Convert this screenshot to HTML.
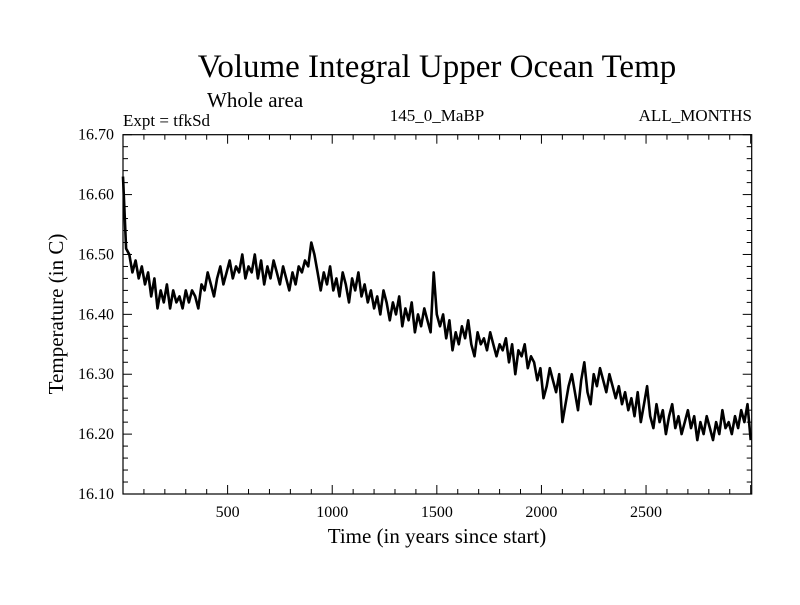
<!DOCTYPE html>
<html><head><meta charset="utf-8"><style>
body{margin:0;background:#fff;}
svg text{font-family:"Liberation Serif",serif;fill:#000;}
</style></head><body>
<svg width="800" height="600" viewBox="0 0 800 600">
<text x="437" y="77" font-size="33" text-anchor="middle">Volume Integral Upper Ocean Temp</text>
<text x="207" y="107" font-size="21">Whole area</text>
<text x="123" y="126" font-size="17">Expt = tfkSd</text>
<text x="437" y="121" font-size="17" text-anchor="middle">145_0_MaBP</text>
<text x="752" y="121" font-size="17" text-anchor="end">ALL_MONTHS</text>
<text x="437" y="543" font-size="21" text-anchor="middle">Time (in years since start)</text>
<text transform="translate(63,314) rotate(-90)" font-size="21" text-anchor="middle">Temperature (in C)</text>
<g id="axes"></g>
<path id="line" fill="none" stroke="#000" stroke-width="2.6" stroke-linejoin="round"></path>
<rect x="123" y="134.7" width="628.7" height="359.3" fill="none" stroke="#000" stroke-width="1.2"></rect>
</svg>
<script>
const startYear = 0;
const stepYears = 15;
const temps = [16.63,16.51,16.50,16.47,16.49,16.46,16.48,16.45,16.47,16.43,16.46,16.41,16.44,16.42,16.45,16.41,16.44,16.42,16.43,16.41,16.44,
16.42,16.44,16.43,16.41,16.45,16.44,16.47,16.45,16.43,16.46,16.48,16.45,16.47,16.49,16.46,16.48,16.47,16.50,16.46,16.48,
16.47,16.50,16.46,16.49,16.45,16.48,16.46,16.49,16.47,16.45,16.48,16.46,16.44,16.47,16.45,16.48,16.47,16.49,16.48,16.52,
16.50,16.47,16.44,16.47,16.45,16.48,16.44,16.46,16.43,16.47,16.45,16.42,16.46,16.44,16.47,16.43,16.45,16.42,16.44,16.41,
16.43,16.40,16.44,16.42,16.39,16.42,16.40,16.43,16.38,16.41,16.39,16.42,16.37,16.40,16.38,16.41,16.39,16.37,16.47,16.40,
16.38,16.40,16.36,16.39,16.34,16.37,16.35,16.38,16.36,16.39,16.35,16.33,16.37,16.35,16.36,16.34,16.37,16.35,16.33,16.35,
16.34,16.36,16.32,16.35,16.30,16.34,16.33,16.35,16.31,16.33,16.32,16.29,16.31,16.26,16.28,16.31,16.29,16.27,16.30,16.22,
16.25,16.28,16.30,16.27,16.24,16.29,16.32,16.27,16.25,16.30,16.28,16.31,16.29,16.27,16.30,16.28,16.26,16.28,16.25,16.27,
16.24,16.26,16.23,16.27,16.22,16.25,16.28,16.23,16.21,16.25,16.22,16.24,16.20,16.23,16.25,16.21,16.23,16.20,16.22,16.24,
16.21,16.23,16.19,16.22,16.20,16.23,16.21,16.19,16.22,16.20,16.24,16.21,16.22,16.20,16.23,16.21,16.24,16.22,16.25,16.19];
const xTickLabels = [500,1000,1500,2000,2500];
const yTickLabels = ["16.10","16.20","16.30","16.40","16.50","16.60","16.70"];

const X0=123, X1=751.7, Y0=494, Y1=134.7, XMIN=0, XMAX=3005, YMIN=16.1, YMAX=16.7;
const sx = v => X0 + (v-XMIN)/(XMAX-XMIN)*(X1-X0);
const sy = v => Y0 - (v-YMIN)/(YMAX-YMIN)*(Y0-Y1);
const NS="http://www.w3.org/2000/svg";
const axes=document.getElementById('axes');
function mk(tag,attrs){const e=document.createElementNS(NS,tag);for(const k in attrs)e.setAttribute(k,attrs[k]);axes.appendChild(e);return e;}
for(let y=100;y<XMAX;y+=100){
  const major = y%500===0, len = major?9:5, x=sx(y);
  const t1=mk('line',{x1:x,x2:x,y1:Y0,y2:Y0-len,stroke:'#000','stroke-width':1});
  
  
  const t2=mk('line',{x1:x,x2:x,y1:Y1,y2:Y1+len,stroke:'#000','stroke-width':1});
  
  
}
xTickLabels.forEach(v=>{
  const t=mk('text',{x:sx(v),y:517,'font-size':16,'text-anchor':'middle'});
  t.textContent=v;
  
  
});
for(let i=0;i<=30;i++){
  const v=YMIN+i*0.02, major=i%5===0, len=major?9:5, y=sy(v);
  const t1=mk('line',{x1:X0,x2:X0+len,y1:y,y2:y,stroke:'#000','stroke-width':1});
  
  
  const t2=mk('line',{x1:X1,x2:X1-len,y1:y,y2:y,stroke:'#000','stroke-width':1});
  
  
}
yTickLabels.forEach(s=>{
  const t=mk('text',{x:114,y:sy(parseFloat(s))+5,'font-size':16,'text-anchor':'end'});
  t.textContent=s;
  
  
});
let d='';
temps.forEach((v,i)=>{d+=(i?'L':'M')+sx(startYear+i*stepYears).toFixed(1)+','+sy(v).toFixed(1);});
document.getElementById('line').setAttribute('d',d);
</script>
</body></html>
